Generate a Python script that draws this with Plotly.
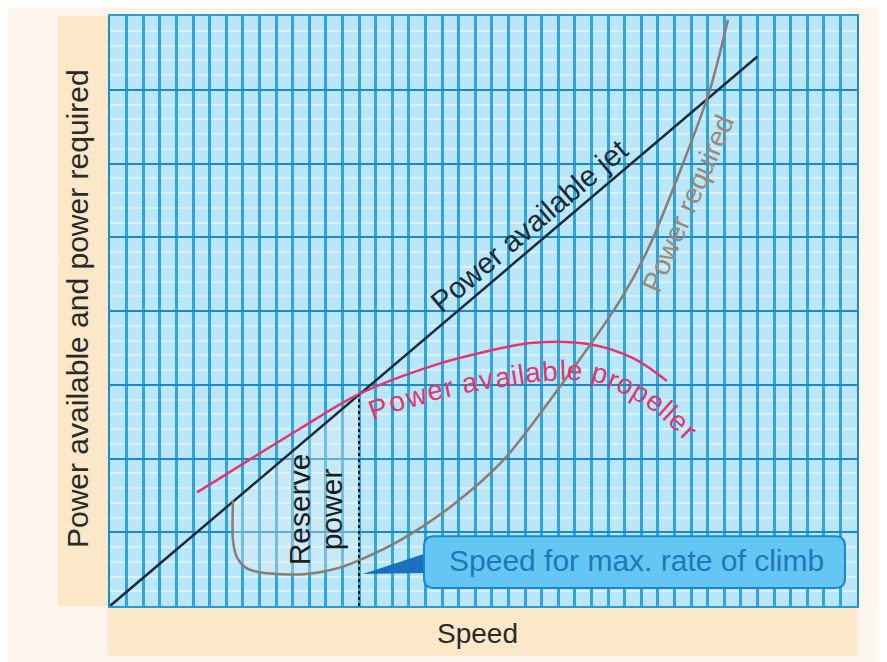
import numpy as np
import plotly.graph_objects as go

# ---------------- data (grid units) ----------------
jet_speed = [0.0, 39.0]
jet_power = [0.0, 7.45]

prop_speed = [5.24, 11.27, 15.06, 19.46, 22.29, 25.48, 28.92, 31.51, 33.55]
prop_power = [1.54, 2.38, 2.88, 3.26, 3.43, 3.57, 3.55, 3.36, 3.05]

req_speed = [7.41, 7.41, 7.65, 8.25, 9.22, 11.63, 13.67, 15.0, 17.47, 20.48,
             23.67, 27.29, 30.72, 32.35, 34.52, 36.14, 37.23]
req_power = [1.43, 0.89, 0.66, 0.51, 0.45, 0.43, 0.51, 0.62, 0.89, 1.34,
             1.97, 3.03, 4.14, 4.81, 6.00, 7.00, 7.95]

climb_speed = 15.0

x_title = "Speed"
y_title = "Power available and power required"
jet_label = "Power available jet"
req_label = "Power required"
prop_label = "Power available propeller"
reserve_label = ["Reserve", "power"]
callout_label = "Speed for max. rate of climb"

# ---------------- geometry / style ----------------
OFF = 8                      # page body margin
W, H = 887 - OFF, 662 - OFF
ML, MR, MT, MB = 110 - OFF, 30, 14 - OFF, 56
XMAX, YMAX = 45, 8
PW, PH = W - ML - MR, H - MT - MB


def dx(px):          # page pixel -> data x
    return (px - OFF - ML) / PW * XMAX


def dy(py):          # page pixel -> data y
    return (H - MB - (py - OFF)) / PH * YMAX


def paper_x(px):
    return (px - OFF - ML) / PW


def paper_y(py):
    return (H - MB - (py - OFF)) / PH


FONT = "Liberation Sans, Arial, Helvetica, sans-serif"
RED = "#E0386C"
REQ = "#8C7C72"
REQ_TXT = "#9C8A78"
JET = "#1C2B36"
FS = 28

fig = go.Figure()

# reserve power region (between jet line and power required, left of climb speed)
idx = [i for i, s in enumerate(req_speed) if s <= climb_speed]
jx0 = req_speed[0]
reg_x = [jx0, climb_speed] + [req_speed[i] for i in reversed(idx)]
reg_y = [float(np.interp(jx0, jet_speed, jet_power)),
         float(np.interp(climb_speed, jet_speed, jet_power))] + [req_power[i] for i in reversed(idx)]
fig.add_trace(go.Scatter(x=reg_x, y=reg_y, fill="toself", mode="none",
                         fillcolor="rgba(235,238,242,0.35)", hoverinfo="skip"))

fig.add_trace(go.Scatter(x=jet_speed, y=jet_power, mode="lines",
                         line=dict(color=JET, width=2.5), hoverinfo="skip"))
fig.add_trace(go.Scatter(x=prop_speed, y=prop_power, mode="lines",
                         line=dict(color=RED, width=2.5, shape="spline", smoothing=1.0),
                         hoverinfo="skip"))
fig.add_trace(go.Scatter(x=req_speed, y=req_power, mode="lines",
                         line=dict(color=REQ, width=2.5, shape="spline", smoothing=0.8),
                         hoverinfo="skip"))
fig.add_trace(go.Scatter(x=[climb_speed, climb_speed],
                         y=[0, float(np.interp(climb_speed, jet_speed, jet_power))],
                         mode="lines", line=dict(color="#111111", width=2, dash="dot"),
                         hoverinfo="skip"))

annotations = []


def txt(text, px, py, size=FS, color="#222222", angle=0):
    annotations.append(dict(x=dx(px), y=dy(py), xref="x", yref="y", text=text,
                            showarrow=False, textangle=angle,
                            xanchor="center", yanchor="middle",
                            font=dict(family=FONT, size=size, color=color)))


# axis titles
annotations.append(dict(x=paper_x(77), y=paper_y(308), xref="paper", yref="paper",
                        text=y_title, showarrow=False, textangle=-90,
                        xanchor="center", yanchor="middle",
                        font=dict(family=FONT, size=30, color="#2A2A2A")))
annotations.append(dict(x=paper_x(477), y=paper_y(634), xref="paper", yref="paper",
                        text=x_title, showarrow=False,
                        xanchor="center", yanchor="middle",
                        font=dict(family=FONT, size=FS, color="#2A2A2A")))

# curve labels
txt(jet_label, 529, 224, size=29.5, color=JET, angle=-40.4)
txt(req_label, 688, 202, color=REQ_TXT, angle=-66.5)
txt(reserve_label[0], 299, 509, size=30, color="#1E1E1E", angle=-90)
txt(reserve_label[1], 331, 509, size=30, color="#1E1E1E", angle=-90)

# curved propeller label, letter by letter
AW = {'P': .667, 'o': .556, 'w': .722, 'e': .556, 'r': .333, ' ': .278, 'a': .556,
      'v': .5, 'i': .222, 'l': .222, 'b': .556, 'p': .556}
path = np.array([(369, 411), (400, 400), (430, 391), (480, 380), (530, 372), (570, 369),
                 (600, 373), (630, 385), (660, 403), (693, 434)], float)
seg = np.hypot(*np.diff(path, axis=0).T)
cum = np.concatenate([[0], np.cumsum(seg)])
widths = np.array([AW[c] for c in prop_label]) * FS
scale = cum[-1] / widths.sum()
centers = (np.cumsum(widths) - widths / 2) * scale
for c, s in zip(prop_label, centers):
    if c == " ":
        continue
    x = np.interp(s, cum, path[:, 0])
    y = np.interp(s, cum, path[:, 1])
    x1, y1 = np.interp(s - 12, cum, path[:, 0]), np.interp(s - 12, cum, path[:, 1])
    x2, y2 = np.interp(s + 12, cum, path[:, 0]), np.interp(s + 12, cum, path[:, 1])
    ang = float(np.degrees(np.arctan2(y2 - y1, x2 - x1)))
    txt(c, x, y, color=RED, angle=ang)

# callout
txt(callout_label, 636, 560, size=30, color="#2276BC")

bx0, by0, bx1, by1, r = 424, 536, 845, 588, 10


def P(px, py):
    return f"{dx(px):.4f},{dy(py):.4f}"


box_path = (f"M {P(bx0 + r, by0)} L {P(bx1 - r, by0)} Q {P(bx1, by0)} {P(bx1, by0 + r)} "
            f"L {P(bx1, by1 - r)} Q {P(bx1, by1)} {P(bx1 - r, by1)} "
            f"L {P(bx0 + r, by1)} Q {P(bx0, by1)} {P(bx0, by1 - r)} "
            f"L {P(bx0, by0 + r)} Q {P(bx0, by0)} {P(bx0 + r, by0)} Z")
tri_path = f"M {P(363, 574)} L {P(426, 553)} L {P(426, 573)} Z"

shapes = [
    dict(type="rect", xref="paper", yref="paper", x0=paper_x(58), x1=paper_x(109),
         y0=paper_y(606), y1=paper_y(14), fillcolor="#FCE8C8", line=dict(width=0), layer="below"),
    dict(type="rect", xref="paper", yref="paper", x0=paper_x(108), x1=paper_x(857),
         y0=paper_y(656), y1=paper_y(607), fillcolor="#FCE8C8", line=dict(width=0), layer="below"),
    dict(type="path", xref="x", yref="y", path=tri_path, fillcolor="#1B70C0",
         line=dict(width=0), layer="above"),
    dict(type="path", xref="x", yref="y", path=box_path, fillcolor="#64C6F3",
         line=dict(color="#1C86D2", width=2), layer="above"),
]

fig.update_layout(
    width=W, height=H, autosize=False,
    margin=dict(l=ML, r=MR, t=MT, b=MB, pad=0),
    paper_bgcolor="#FEF6EC", plot_bgcolor="#B9E6F9",
    showlegend=False, hovermode=False,
    annotations=annotations, shapes=shapes,
    xaxis=dict(range=[0, XMAX], dtick=1, tick0=0, showgrid=True, gridcolor="#2FA4DF",
               gridwidth=2.5, showticklabels=False, zeroline=False, ticks="",
               showline=True, linecolor="#2A9AD6", linewidth=2, mirror=True, fixedrange=True),
    yaxis=dict(range=[0, YMAX], dtick=1, tick0=0, showgrid=True, gridcolor="#1F88C6",
               gridwidth=2, showticklabels=False, zeroline=False, ticks="",
               showline=True, linecolor="#1F88C6", linewidth=2, mirror=True, fixedrange=True,
               minor=dict(dtick=0.2, showgrid=True, gridcolor="#D8F1FC", gridwidth=2)),
)

fig.write_html("out.html")
